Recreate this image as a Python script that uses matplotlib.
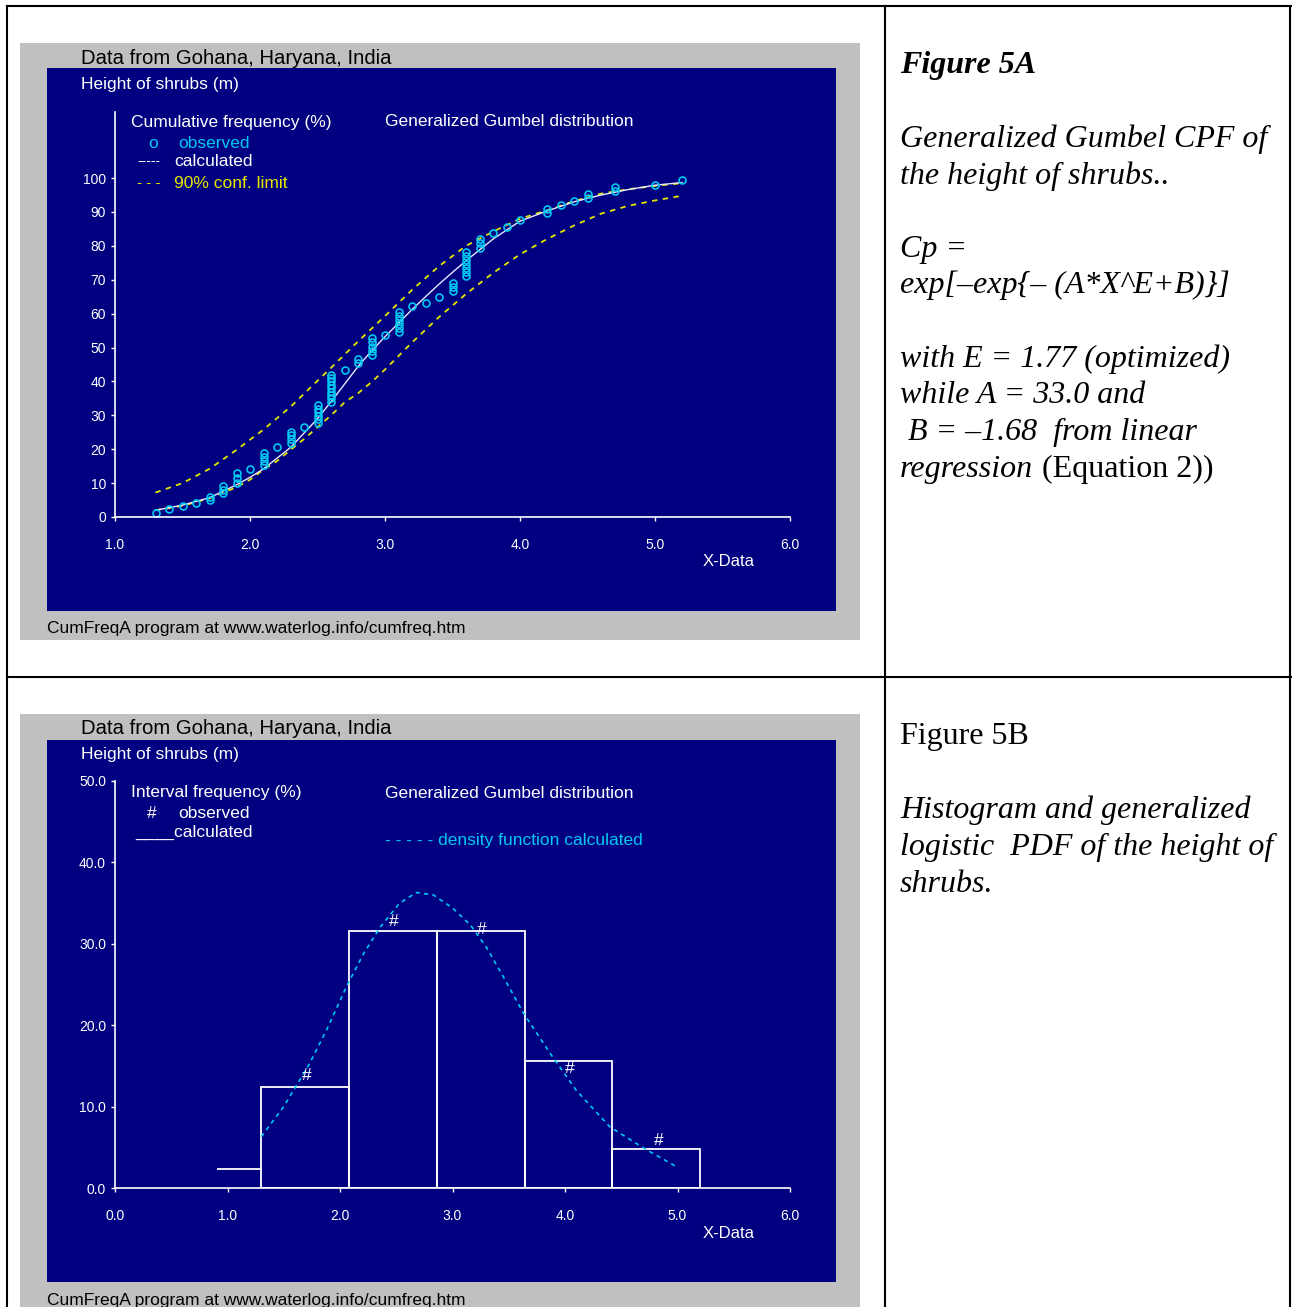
import matplotlib
matplotlib.use("Agg")
import matplotlib.pyplot as plt
from matplotlib import font_manager
from matplotlib.patches import Rectangle
from matplotlib.lines import Line2D

plt.rcParams["font.family"] = ["Liberation Sans", "DejaVu Sans"]

# ---- data ----
# Figure 5A: observed cumulative frequencies, stacked per height class
obs_height = [1.3, 1.4, 1.5, 1.6, 1.7, 1.8, 1.9, 2.0, 2.1, 2.2, 2.3, 2.4, 2.5, 2.6,
              2.7, 2.8, 2.9, 3.0, 3.1, 3.2, 3.3, 3.4, 3.5, 3.6, 3.7, 3.8, 3.9, 4.0,
              4.2, 4.3, 4.4, 4.5, 4.7, 5.0, 5.2]
obs_cum = [
    [1.2], [2.4], [3.2], [4.2], [5.0, 6.0], [7.0, 8.0, 9.0], [10.0, 11.4, 12.9],
    [14.2], [15.2, 16.4, 17.6, 18.8], [20.6], [21.8, 23.0, 24.1, 25.2], [26.6],
    [27.7, 28.8, 29.9, 31.0, 32.0, 33.0],
    [34.0, 35.0, 36.0, 37.0, 38.0, 39.0, 40.0, 41.0, 42.0],
    [43.4], [45.5, 46.6], [47.9, 49.1, 50.3, 51.5, 52.8], [53.7],
    [54.6, 55.8, 57.0, 58.2, 59.4, 60.6], [62.2], [63.2], [64.8],
    [66.7, 67.9, 69.1], [71.0, 72.2, 73.4, 74.6, 75.8, 77.0, 78.2],
    [79.5, 80.8, 82.0], [83.7], [85.7], [87.7], [89.8, 91.0], [92.2], [93.2],
    [94.1, 95.3], [96.2, 97.3], [98.1], [99.3],
]

calc_x = [1.3, 1.5, 1.7, 1.9, 2.0, 2.1, 2.3, 2.5, 2.6, 2.7, 2.8, 2.9, 3.0, 3.1,
          3.2, 3.3, 3.4, 3.5, 3.6, 3.8, 4.0, 4.2, 4.4, 4.6, 4.8, 5.0, 5.2]
calc_y = [2.0, 3.5, 5.7, 9.5, 11.7, 14.2, 20.5, 29.0, 34.0, 39.2, 44.4, 49.0, 53.2,
          57.2, 61.2, 65.0, 68.7, 72.2, 75.6, 82.0, 87.3, 90.3, 93.0, 95.0, 96.6,
          97.9, 98.7]

upper_x = [1.3, 1.5, 1.7, 1.9, 2.1, 2.3, 2.5, 2.6, 2.8, 3.0, 3.2, 3.4, 3.6, 3.8,
           4.0, 4.2, 4.4, 4.6, 4.8, 5.0, 5.2]
upper_y = [7.2, 10.0, 14.2, 19.8, 25.8, 32.5, 40.2, 44.0, 51.8, 59.3, 67.0, 74.0,
           80.0, 84.2, 88.0, 90.5, 93.2, 95.4, 96.7, 97.7, 98.5]

lower_x = [1.3, 1.5, 1.7, 1.9, 2.0, 2.1, 2.2, 2.3, 2.4, 2.5, 2.6, 2.7, 2.8, 2.9,
           3.0, 3.1, 3.2, 3.4, 3.6, 3.8, 4.0, 4.2, 4.4, 4.6, 4.8, 5.0, 5.2]
lower_y = [2.0, 3.3, 5.5, 8.8, 11.0, 14.0, 16.5, 19.8, 23.0, 26.5, 30.0, 33.8, 36.5,
           39.8, 43.5, 47.5, 51.5, 59.0, 65.8, 72.0, 77.5, 82.0, 86.0, 89.5, 91.8,
           93.4, 94.8]

# Figure 5B: histogram (calculated), observed "#" marks, density curve
bin_edges = [1.3, 2.08, 2.86, 3.64, 4.42, 5.2]
bin_freq = [12.45, 31.6, 31.6, 15.6, 4.83]
first_step = [0.91, 1.3]
first_freq = 2.3
hash_x = [1.70, 2.48, 3.26, 4.04, 4.83]
hash_y = [13.8, 32.8, 31.8, 14.7, 5.8]
dens_x = [1.3, 1.5, 1.73, 1.88, 2.07, 2.21, 2.36, 2.53, 2.68, 2.83, 3.0, 3.16,
          3.3, 3.45, 3.63, 3.87, 4.1, 4.4, 4.7, 4.98]
dens_y = [6.3, 10.0, 15.3, 19.4, 25.1, 28.8, 32.1, 35.0, 36.3, 36.0, 34.4, 32.3,
          29.6, 26.0, 21.5, 16.5, 12.0, 7.5, 4.9, 2.7]

# ---- layout helpers (pixel coordinates of the reference) ----
W, H = 1292, 1307
GRAY = "#C0C0C0"
NAVY = "#000080"
CYAN = "#00C8F0"
YELLOW = "#E6E600"

# the chart labels use a condensed sans; fall back to the normal one if missing
HAVE_NARROW = any(f.name == "Liberation Sans Narrow" for f in font_manager.fontManager.ttflist)
LABEL_FONT = ["Liberation Sans Narrow"] if HAVE_NARROW else ["Liberation Sans"]
LABEL_SCALE = 1.0 / 0.82 if HAVE_NARROW else 1.0


def fx(x):
    return x / W


def fy(y):
    return 1 - y / H


fig = plt.figure(figsize=(W / 100, H / 100), dpi=100)
fig.patch.set_facecolor("white")


def rect(x0, y0, x1, y1, color):
    fig.add_artist(Rectangle((fx(x0), fy(y1)), (x1 - x0) / W, (y1 - y0) / H,
                             transform=fig.transFigure, color=color, lw=0, zorder=-10))


def line(x0, y0, x1, y1, color="black", lw=1.5):
    fig.add_artist(Line2D([fx(x0), fx(x1)], [fy(y0), fy(y1)], color=color, lw=lw,
                          transform=fig.transFigure, zorder=-5))


def txt(x, y, s, color="white", size=12.5, narrow=True, **kw):
    if narrow:
        fam, size = LABEL_FONT + ["DejaVu Sans"], size * LABEL_SCALE
    else:
        fam = ["Liberation Sans", "DejaVu Sans"]
    fig.text(fx(x), fy(y), s, color=color, fontsize=size, family=fam,
             va="center", ha="left", **kw)


# table borders
line(7, 6, 1291, 6)
line(7, 6, 7, 1307)
line(885, 6, 885, 1307)
line(1290, 6, 1290, 1307)
line(7, 677, 1291, 677)

# chart frames
rect(20, 43, 860, 640, GRAY)
rect(47, 68, 836, 611, NAVY)
rect(20, 714, 860, 1307, GRAY)
rect(47, 740, 836, 1282, NAVY)


def make_axes(top, bottom, xlim, ylim, xticks, yticks):
    ax = fig.add_axes([fx(115), fy(bottom), (790 - 115) / W, (bottom - top) / H])
    ax.set_facecolor("none")
    ax.spines["top"].set_visible(False)
    ax.spines["right"].set_visible(False)
    for s in ["left", "bottom"]:
        ax.spines[s].set_color("white")
        ax.spines[s].set_linewidth(1.2)
    ax.set_xlim(*xlim)
    ax.set_ylim(*ylim)
    ax.set_xticks(xticks)
    ax.set_yticks(yticks)
    ax.tick_params(colors="white", labelsize=10, length=3, width=1, direction="out")
    ax.tick_params(axis="x", pad=12)
    ax.tick_params(axis="y", pad=3.5)
    return ax


# ---------------- Figure 5A ----------------
ax1 = make_axes(112, 517, (1.0, 6.0), (0, 119.5),
                [1, 2, 3, 4, 5, 6], list(range(0, 101, 10)))
ax1.set_xticklabels(["1.0", "2.0", "3.0", "4.0", "5.0", "6.0"])
ax1.set_yticklabels([str(v) for v in range(0, 101, 10)])

ax1.plot(upper_x, upper_y, color=YELLOW, lw=1.3, dashes=(3, 3))
ax1.plot(lower_x, lower_y, color=YELLOW, lw=1.3, dashes=(3, 3))
ax1.plot(calc_x, calc_y, color="#E8E8FF", lw=1.0)
xs = [h for h, ys in zip(obs_height, obs_cum) for _ in ys]
ys = [y for ys_ in obs_cum for y in ys_]
ax1.plot(xs, ys, "o", ms=5, mfc="none", mec=CYAN, mew=1.2, ls="none", clip_on=False)

txt(81, 58, "Data from Gohana, Haryana, India", color="black", size=14.6)
txt(81, 85, "Height of shrubs (m)")
txt(131, 122, "Cumulative frequency (%)")
txt(385, 122, "Generalized Gumbel distribution")
txt(148, 143, "o", color=CYAN)
txt(178, 143, "observed", color=CYAN)
txt(137, 161, "-----", size=10)
txt(174, 162, "calculated")
txt(137, 183, "- - -", color=YELLOW, size=11)
txt(174, 183, "90% conf. limit", color=YELLOW)
txt(703, 562, "X-Data", size=12)
txt(47, 629, "CumFreqA program at www.waterlog.info/cumfreq.htm", color="black",
    size=12.5, narrow=False)

# ---------------- Figure 5B ----------------
ax2 = make_axes(781, 1188, (0.0, 6.0), (0, 50),
                [0, 1, 2, 3, 4, 5, 6], [0, 10, 20, 30, 40, 50])
ax2.set_xticklabels(["0.0", "1.0", "2.0", "3.0", "4.0", "5.0", "6.0"])
ax2.set_yticklabels(["0.0", "10.0", "20.0", "30.0", "40.0", "50.0"])

widths = [b - a for a, b in zip(bin_edges[:-1], bin_edges[1:])]
ax2.bar(bin_edges[:-1], bin_freq, width=widths, align="edge",
        facecolor="none", edgecolor="white", lw=1.3)
ax2.hlines(first_freq, first_step[0], first_step[1], color="white", lw=1.3)
ax2.plot(dens_x, dens_y, color=CYAN, lw=1.2, dashes=(2.5, 2.5))
for hx, hy in zip(hash_x, hash_y):
    ax2.text(hx, hy, "#", color="white", fontsize=12.5, ha="center", va="center")

txt(81, 729, "Data from Gohana, Haryana, India", color="black", size=14.6)
txt(81, 755, "Height of shrubs (m)")
txt(131, 793, "Interval frequency (%)")
txt(385, 793, "Generalized Gumbel distribution")
txt(147, 813, "#")
txt(178, 813, "observed")
txt(135, 832, "____calculated")
txt(385, 840, "- - - - - density function calculated", color=CYAN)
txt(703, 1233, "X-Data", size=12)
txt(47, 1300, "CumFreqA program at www.waterlog.info/cumfreq.htm", color="black",
    size=12.5, narrow=False)

# ---------------- right-hand captions ----------------
SERIF = ["Liberation Serif", "DejaVu Serif"]


def cap(x, y, s, style="italic", weight="normal"):
    fig.text(fx(x), fy(y), s, fontsize=23, family=SERIF, style=style,
             weight=weight, color="black", va="baseline", ha="left")


cap(900, 73, "Figure 5A", weight="bold")
cap(900, 147, "Generalized Gumbel CPF of")
cap(900, 184, "the height of shrubs..")
cap(900, 257, "Cp =")
cap(900, 293, "exp[\u2013exp{\u2013 (A*X^E+B)}]")
cap(900, 367, "with E = 1.77 (optimized)")
cap(900, 403, "while A = 33.0 and")
cap(900, 440, " B = \u20131.68  from linear")
cap(900, 477, "regression")
cap(1042, 477, "(Equation 2))", style="normal")

cap(900, 744, "Figure 5B", style="normal")
cap(900, 818, "Histogram and generalized")
cap(900, 855, "logistic  PDF of the height of")
cap(900, 892, "shrubs.")

fig.savefig("out.png", dpi=100)
